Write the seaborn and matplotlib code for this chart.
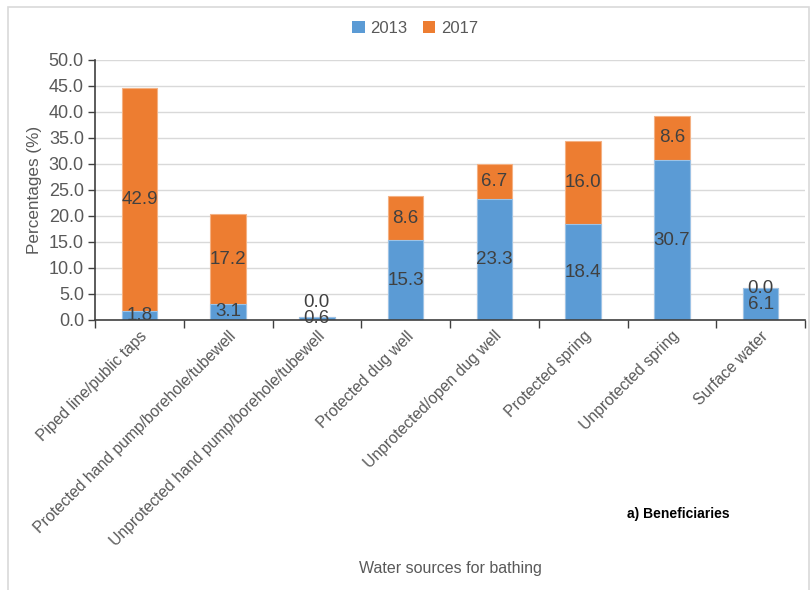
import matplotlib
matplotlib.use("Agg")
import matplotlib.pyplot as plt
from matplotlib.patches import Rectangle, Patch
from matplotlib.ticker import FixedLocator
import numpy as np
import pandas as pd
import seaborn as sns

sources = [
    "Piped line/public taps",
    "Protected hand pump/borehole/tubewell",
    "Unprotected hand pump/borehole/tubewell",
    "Protected dug well",
    "Unprotected/open dug well",
    "Protected spring",
    "Unprotected spring",
    "Surface water",
]
pct_2013 = [1.8, 3.1, 0.6, 15.3, 23.3, 18.4, 30.7, 6.1]
pct_2017 = [42.9, 17.2, 0.0, 8.6, 6.7, 16.0, 8.6, 0.0]
years = ["2013", "2017"]

C13 = "#5B9BD5"
C17 = "#ED7D31"
TXT = "#404040"
GREY = "#595959"

sns.set_theme(style="white")
plt.rcParams["font.family"] = ["Liberation Sans Narrow", "Liberation Sans", "DejaVu Sans"]

df = pd.DataFrame({"source": sources, "y2013": pct_2013, "y2017": pct_2017})
df["total"] = df["y2013"] + df["y2017"]

fig = plt.figure(figsize=(8.1, 5.9), dpi=100)
ax = fig.add_axes([95 / 810, 1 - 320 / 590, 710 / 810, 260 / 590])

# stacked bars: the total (2017 on top) drawn first, 2013 drawn over it
sns.barplot(data=df, x="source", y="total", color=C17, saturation=1, width=0.4,
            edgecolor="#F4B183", linewidth=0.8, ax=ax)
sns.barplot(data=df, x="source", y="y2013", color=C13, saturation=1, width=0.4,
            edgecolor="#9DC3E6", linewidth=0.8, ax=ax)

ax.set_ylim(0, 50)
ax.set_xlim(-0.5, len(sources) - 0.5)
yt = np.arange(0, 50.1, 5)
ax.set_yticks(yt)
ax.set_yticklabels([f"{v:.1f}" for v in yt], fontsize=13, color=GREY)
ax.grid(axis="y", color="#D9D9D9", linewidth=1)
ax.set_axisbelow(True)

for s in ["top", "right"]:
    ax.spines[s].set_visible(False)
for s in ["left", "bottom"]:
    ax.spines[s].set_color("#404040")
    ax.spines[s].set_linewidth(1.2)

ax.tick_params(axis="y", which="major", direction="out", length=5, width=1, color="#404040", pad=3, left=True)
ax.xaxis.set_minor_locator(FixedLocator(np.arange(-0.5, len(sources), 1)))
ax.tick_params(axis="x", which="minor", direction="out", length=6, width=1, color="#404040", bottom=True)
ax.tick_params(axis="x", which="major", length=0, pad=6)
ax.set_xticks(range(len(sources)))
ax.set_xticklabels(sources, rotation=45, ha="right", rotation_mode="anchor",
                   fontsize=11.3, color=GREY)
ax.set_xlabel("")
ax.set_ylabel("Percentages (%)", fontsize=12.3, color=GREY, labelpad=5)

# value labels
for i, (a, b) in enumerate(zip(pct_2013, pct_2017)):
    ax.text(i, a / 2, f"{a:.1f}", ha="center", va="center", fontsize=13.5, color=TXT)
    yb = a + b / 2 if b > 0 else max(a, a / 2 + 3.1)
    ax.text(i, yb, f"{b:.1f}", ha="center", va="center", fontsize=13.5, color=TXT)

handles = [Patch(facecolor=C13, edgecolor="none"), Patch(facecolor=C17, edgecolor="none")]
fig.legend(handles, years, loc="center", bbox_to_anchor=(415 / 810, 0.952), ncol=2,
           frameon=False, fontsize=12, handlelength=0.75, handleheight=0.75,
           handletextpad=0.35, columnspacing=0.9, labelcolor=GREY)

fig.text(450 / 810, 1 - 568 / 590, "Water sources for bathing", ha="center", va="center",
         fontsize=11.5, color=GREY)
fig.text(678 / 810, 1 - 514 / 590, "a) Beneficiaries", ha="center", va="center",
         fontsize=10, fontweight="bold", color="black")

fig.patches.append(Rectangle((8 / 810, -0.01), 801 / 810, 1 - 7 / 590 + 0.01,
                             transform=fig.transFigure, fill=False,
                             edgecolor="#D9D9D9", linewidth=1.2))

fig.savefig("out.png", dpi=100)
